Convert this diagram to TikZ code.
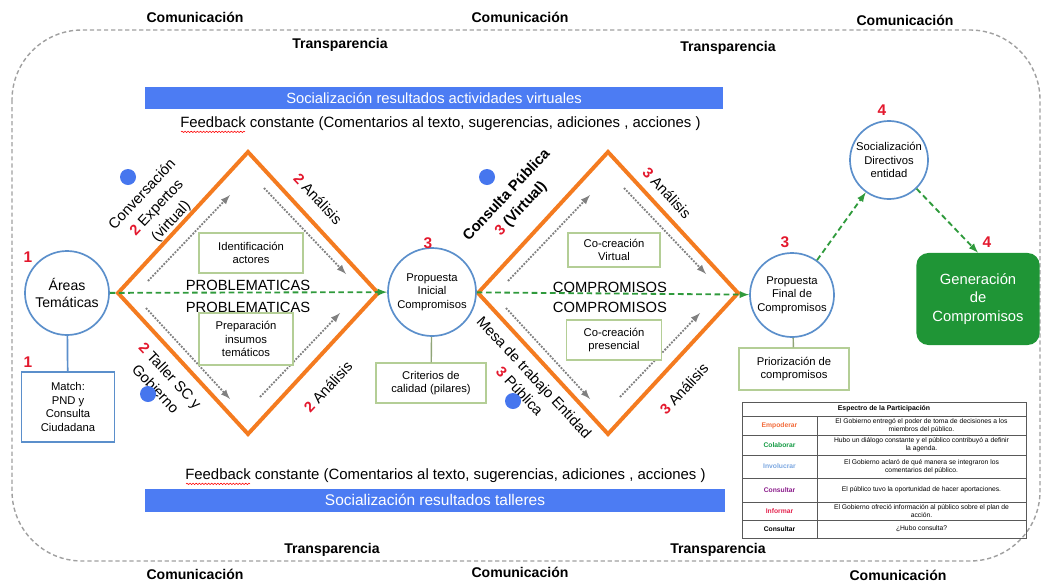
\documentclass[tikz,border=0pt]{standalone}
\usepackage{fontspec}
\setmainfont{Liberation Sans}
\usetikzlibrary{arrows, calc, positioning, decorations.pathmorphing}
\definecolor{diamondOrange}{HTML}{F47B20}
\definecolor{circleBlue}{HTML}{5B8FCB}
\definecolor{barBlue}{HTML}{4C7CF3}
\definecolor{dotBlue}{HTML}{4676EE}
\definecolor{flowGreen}{HTML}{2F9A3C}
\definecolor{boxGreen}{HTML}{B4CE96}
\definecolor{genGreen}{HTML}{1F9536}
\definecolor{numRed}{HTML}{E3182D}
\definecolor{frameGray}{HTML}{A0A0A0}
\definecolor{empOrange}{HTML}{F26B3A}
\definecolor{colGreen}{HTML}{139A43}
\definecolor{invBlue}{HTML}{7AA6E0}
\definecolor{conPurple}{HTML}{8B1C8B}
\definecolor{infRed}{HTML}{E4254F}
\tikzset{
    stage/.style={circle, draw=circleBlue, line width=1.2pt, fill=white, minimum size=2.1cm, inner sep=0pt, align=center, font=\fontsize{8}{9.6}\selectfont},
    note/.style={rectangle, draw=boxGreen, line width=0.8pt, fill=white, align=center, inner sep=1pt, font=\fontsize{8}{9.6}\selectfont},
    bar/.style={rectangle, fill=barBlue, text=white, inner sep=0pt, font=\fontsize{10.5}{12}\selectfont},
    feedback/.style={inner sep=0pt, font=\fontsize{10.6}{12}\selectfont},
    stepNum/.style={text=numRed, inner sep=0pt, font=\bfseries\fontsize{11}{13}\selectfont},
    edgeLabel/.style={align=center, inner sep=0pt, font=\fontsize{10.5}{14}\selectfont},
    phaseWord/.style={inner sep=0pt, font=\fontsize{10.5}{12}\selectfont},
    frameWord/.style={inner sep=0pt, font=\bfseries\fontsize{10}{12}\selectfont},
    partDot/.style={circle, fill=dotBlue, inner sep=0pt, minimum size=0.4cm},
    flowLine/.style={->, >=latex, flowGreen, line width=1.3pt, dash pattern=on 4pt off 2.5pt},
    trialArrow/.style={->, >=latex, gray, line width=1.3pt, densely dotted},
    diamondEdge/.style={diamondOrange, line width=2.8pt, line join=miter},
    frameLine/.style={frameGray, line width=1pt, dash pattern=on 3pt off 2pt, rounded corners=1.75cm},
    spellMark/.style={red, line width=0.4pt, decorate, decoration={snake, amplitude=0.5pt, segment length=2.2pt}},
    tableRule/.style={black!65, line width=0.6pt},
    tableCell/.style={align=center, inner sep=0pt, font=\fontsize{4.8}{5.7}\selectfont},
}
\newcommand{\stepno}[1]{{\color{numRed}\bfseries #1}}
\newcommand{\drawDiamond}[1]{
    \draw[diamondEdge] ($(#1)+(-130,0)$) -- ($(#1)+(0,-141)$) -- ($(#1)+(130,0)$) -- ($(#1)+(0,141)$) -- cycle;
}
\newcommand{\drawTrials}[1]{
    \foreach \sx/\sy/\ex/\ey [count=\k] in {-100/-12/-18/-98, 16/-105/98/-19, -102/15/-18/106, 12/104/92/20}{
        \coordinate (#1-s\k) at ($(#1)+(\sx,\sy)$);
        \coordinate (#1-e\k) at ($(#1)+(\ex,\ey)$);
        \draw[trialArrow] (#1-s\k) -- (#1-e\k);
    }
}

\begin{document}
\begin{tikzpicture}[x=0.025cm, y=-0.025cm]
    \useasboundingbox (0,0) rectangle (1049,586);

    % marco
    \draw[frameLine] (12,30) rectangle (1040,561);
    \node[frameWord] (com1) at (195,17) {Comunicación};
    \node[frameWord] (com2) at (520,17) {Comunicación};
    \node[frameWord] (com3) at (905,20) {Comunicación};
    \node[frameWord] (com4) at (195,574) {Comunicación};
    \node[frameWord] (com5) at (520,572) {Comunicación};
    \node[frameWord] (com6) at (898,575) {Comunicación};
    \node[frameWord] (tra1) at (340,45) {Transparencia};
    \node[frameWord] (tra2) at (728,48) {Transparencia};
    \node[frameWord] (tra3) at (332,550) {Transparencia};
    \node[frameWord] (tra4) at (718,550) {Transparencia};

    % barras
    \node[bar, minimum width=14.45cm, minimum height=0.55cm] (barTop) at (434,98) {Socialización resultados actividades virtuales};
    \node[feedback, anchor=west] (fbTop) at (180,124) {Feedback constante (Comentarios al texto, sugerencias, adiciones , acciones )};
    \draw[spellMark] ($(fbTop.base west)+(1,4)$) -- ++(64,0);
    \node[feedback, anchor=west] (fbBot) at (185,476) {Feedback constante (Comentarios al texto, sugerencias, adiciones , acciones )};
    \draw[spellMark] ($(fbBot.base west)+(1,4)$) -- ++(64,0);
    \node[bar, minimum width=14.5cm, minimum height=0.575cm, font=\fontsize{11}{13}\selectfont] (barBot) at (435,500) {Socialización resultados talleres};

    % diamantes
    \coordinate (probC) at (248,293);
    \coordinate (compC) at (608,293);
    \drawDiamond{probC}
    \drawDiamond{compC}
    \drawTrials{probC}
    \drawTrials{compC}

    \node[stage, minimum size=2.1cm, font=\fontsize{10}{12}\selectfont] (areas) at (67,293) {Áreas\\Temáticas};
    \node[stage, minimum size=2.2cm] (propIni) at (432,292) {Propuesta\\Inicial\\Compromisos};
    \node[stage] (propFin) at (792,295) {Propuesta\\Final de\\Compromisos};
    \node[stage, minimum size=1.95cm] (socDir) at (889,160) {Socialización\\Directivos\\entidad};
    \node[rectangle, rounded corners=0.3cm, fill=genGreen, text=white, align=center, minimum width=3.08cm, minimum height=2.3cm, font=\fontsize{10.5}{13}\selectfont] (gen) at (978,299) {Generación\\de\\Compromisos};

    \draw[flowLine] (areas) -- (propIni);
    \draw[flowLine] (propIni) -- (propFin);
    \draw[flowLine] (propFin) -- (socDir);
    \draw[flowLine] (socDir) -- (gen.north);

    \node[phaseWord] (probA) at (248,285) {PROBLEMATICAS};
    \node[phaseWord] (probB) at (248,307) {PROBLEMATICAS};
    \node[phaseWord] (compA) at (610,287) {COMPROMISOS};
    \node[phaseWord] (compB) at (610,307) {COMPROMISOS};

    % cajas
    \node[rectangle, draw=circleBlue, line width=0.8pt, fill=white, align=center, minimum width=2.33cm, minimum height=1.75cm, font=\fontsize{8}{9.6}\selectfont] (match) at (68,407) {Match:\\PND y\\Consulta\\Ciudadana};
    \draw[circleBlue, line width=1.2pt] (areas) -- (match);
    \node[note, minimum width=2.6cm, minimum height=1cm] (ident) at (251,253) {Identificación\\actores};
    \node[note, minimum width=2.35cm, minimum height=1.3cm] (prep) at (246,339) {Preparación\\insumos\\temáticos};
    \node[note, minimum width=2.3cm, minimum height=0.85cm] (coVir) at (614,250) {Co-creación\\Virtual};
    \node[note, minimum width=2.375cm, minimum height=1cm] (coPre) at (614,340) {Co-creación\\presencial};
    \node[note, minimum width=2.75cm, minimum height=1cm] (crit) at (431,383) {Criterios de\\calidad (pilares)};
    \draw[boxGreen!80!black, line width=1pt] (propIni) -- (crit);
    \node[note, minimum width=2.75cm, minimum height=1.05cm] (prior) at (794,369) {Priorización de\\compromisos};
    \draw[boxGreen!80!black, line width=1pt] (propFin) -- (prior);

    % numeros
    \node[stepNum] (n1a) at (28,257) {1};
    \node[stepNum] (n1b) at (28,362) {1};
    \node[stepNum] (n3a) at (428,243) {3};
    \node[stepNum] (n3b) at (785,242) {3};
    \node[stepNum] (n4a) at (882,110) {4};
    \node[stepNum] (n4b) at (987,242) {4};

    % etiquetas de los lados
    \node[edgeLabel, rotate=47] (lblExp) at (157,208) {Conversación\\\stepno{2} Expertos\\(virtual)};
    \node[edgeLabel, rotate=-47] (lblAn1) at (318,199) {\stepno{2} Análisis};
    \node[edgeLabel, rotate=-47] (lblTal) at (163,382) {\stepno{2} Taller SC y\\Gobierno};
    \node[edgeLabel, rotate=47] (lblAn2) at (328,387) {\stepno{2} Análisis};
    \node[edgeLabel, rotate=47, font=\bfseries\fontsize{10.5}{14}\selectfont] (lblCon) at (514,202) {Consulta Pública\\\stepno{3} (Virtual)};
    \node[edgeLabel, rotate=-47] (lblAn3) at (667,193) {\stepno{3} Análisis};
    \node[edgeLabel, rotate=-47] (lblMes) at (527,384) {Mesa de trabajo Entidad\\\stepno{3} Pública};
    \node[edgeLabel, rotate=47] (lblAn4) at (684,389) {\stepno{3} Análisis};

    \node[partDot] (dotA) at (128,177) {};
    \node[partDot] (dotB) at (148,394) {};
    \node[partDot] (dotC) at (487,177) {};
    \node[partDot] (dotD) at (513,401) {};

    % espectro
    \draw[tableRule] (742,402) rectangle (1026,538);
    \foreach \y in {416,435,455,478,502,520}
        \draw[tableRule] (742,\y) -- (1026,\y);
    \draw[tableRule] (817,416) -- (817,538);
    \node[tableCell, font=\bfseries\fontsize{4.9}{5.8}\selectfont] (specHead) at (884,409) {Espectro de la Participación};
    \foreach \y/\lab/\col/\txt [count=\r] in {
        425.5/Empoderar/empOrange/{El Gobierno entregó el poder de toma de decisiones a los\\miembros del público.},
        445/Colaborar/colGreen/{Hubo un diálogo constante  y el público contribuyó a definir\\la agenda.},
        466.5/Involucrar/invBlue/{El Gobierno aclaró de qué manera se integraron los\\comentarios del público.},
        490/Consultar/conPurple/{El público tuvo la oportunidad de hacer aportaciones.},
        511/Informar/infRed/{El Gobierno ofreció información al público sobre el plan de\\acción.},
        529/Consultar/black/{¿Hubo consulta?}}{
        \node[tableCell, text=\col, font=\bfseries\fontsize{4.8}{5.7}\selectfont] (lab\r) at (779.5,\y) {\lab};
        \node[tableCell] (txt\r) at (921.5,\y) {\txt};
    }
\end{tikzpicture}
\end{document}
